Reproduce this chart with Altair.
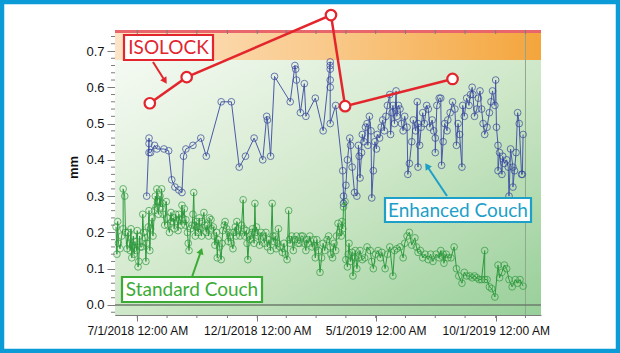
import altair as alt
import pandas as pd

BASE = pd.Timestamp("2018-07-01")

# Standard Couch: (days since 2018-07-01, mm)
std_points = [
    (-27, .215), (-26, .14), (-25, .23), (-24, .17), (-22, .155), (-20, .19), (-18, .21), (-18, .32),
    (-16, .30), (-15, .20), (-13, .155), (-12, .20), (-10, .17), (-9, .15), (-8, .21), (-7, .13),
    (-5, .19), (-4, .14), (-3, .175), (-1, .15), (0, .205), (1, .105), (2, .12), (3, .19), (4, .16),
    (6, .16), (7, .25), (8, .20), (10, .185), (11, .12), (12, .17), (14, .215), (15, .26), (16, .15),
    (17, .21), (19, .24), (20, .19), (22, .26), (23, .30), (24, .27), (25, .32), (26, .285), (27, .25),
    (29, .30), (30, .27), (31, .32), (32, .28), (33, .25), (35, .22), (37, .285), (38, .24), (39, .22),
    (41, .20), (43, .255), (44, .23), (46, .24), (47, .21), (49, .25), (51, .23), (52, .205), (53, .25),
    (54, .235), (56, .22), (57, .275), (58, .24), (60, .265), (61, .22), (62, .235), (64, .20), (65, .17),
    (66, .15), (68, .21), (70, .22), (71, .25), (72, .31), (73, .22), (74, .19), (75, .23), (76, .215),
    (78, .20), (79, .24), (80, .21), (82, .19), (83, .23), (85, .255), (86, .22), (88, .20), (89, .22),
    (91, .19), (92, .24), (94, .235), (95, .21), (97, .215), (98, .19), (99, .165), (101, .20), (102, .13),
    (103, .18), (105, .16), (107, .125), (108, .17), (109, .205), (111, .22), (112, .23), (114, .21),
    (116, .175), (117, .20), (118, .19), (120, .17), (122, .155), (123, .20), (125, .215), (126, .19),
    (127, .23), (129, .21), (131, .19), (133, .22), (135, .29), (136, .21), (137, .19), (139, .205),
    (140, .17), (141, .125), (143, .19), (144, .18), (146, .20), (147, .21), (149, .17), (150, .28),
    (151, .20), (152, .215), (154, .19), (156, .165), (158, .20), (160, .19), (162, .17), (164, .20),
    (166, .16), (168, .18), (170, .15), (172, .28), (173, .19), (174, .175), (176, .19), (177, .155),
    (179, .17), (180, .21), (182, .16), (185, .145), (187, .17), (189, .14), (191, .125), (193, .26),
    (194, .18), (195, .17), (197, .19), (199, .15), (201, .18), (203, .19), (205, .17), (207, .17),
    (209, .19), (211, .19), (213, .17), (215, .15), (216, .18), (218, .17), (220, .19), (223, .16),
    (225, .18), (227, .13), (228, .16), (229, .18), (231, .15), (233, .09), (235, .13), (237, .17),
    (239, .15), (242, .18), (244, .19), (246, .16), (247, .14), (249, .13), (251, .17), (253, .15),
    (254, .19), (256, .225), (258, .20), (260, .19), (261, .23), (262, .21), (263, .27), (265, .285),
    (266, .125), (268, .105), (269, .14), (270, .17), (272, .12), (274, .145), (275, .08), (277, .13),
    (278, .15), (280, .10), (282, .13), (284, .15), (287, .125), (290, .13), (293, .16), (297, .15),
    (299, .12), (301, .10), (304, .14), (307, .15), (310, .13), (312, .145), (316, .10), (319, .14),
    (322, .16), (326, .08), (328, .15), (331, .155), (335, .16), (339, .13), (341, .17), (344, .19),
    (347, .20), (350, .165), (354, .185), (356, .16), (358, .145), (361, .15), (364, .13), (367, .14),
    (371, .125), (374, .14), (377, .12), (381, .14), (385, .13), (387, .15), (388, .135), (390, .14),
    (391, .115), (394, .14), (396, .13), (400, .13), (404, .16), (407, .10), (410, .08), (414, .06),
    (417, .09), (420, .08), (424, .08), (427, .075), (430, .08), (433, .075), (436, .07), (439, .07),
    (443, .15), (443, .07), (446, .07), (449, .05), (452, .045), (456, .022), (460, .11), (462, .075),
    (465, .09), (468, .11), (471, .10), (474, .07), (478, .05), (482, .07), (485, .06), (488, .07),
    (492, .052),
]

# Enhanced Couch: (days since 2018-07-01, mm)
enh_points = [
    (12, .30), (15, .46), (15, .445), (15, .42), (17, .42), (22, .44), (25, .43), (34, .43), (40, .425),
    (44, .345), (48, .325), (53, .317), (57, .31), (59, .41), (62, .43), (71, .44), (81, .46), (88, .41),
    (107, .56), (120, .56), (130, .38), (138, .41), (149, .46), (160, .40), (165, .52), (166, .51),
    (170, .41), (175, .63), (195, .56), (201, .66), (202, .65), (203, .62), (208, .53), (213, .61),
    (215, .52), (227, .57), (237, .48), (246, .67), (246, .66), (246, .65), (246, .62), (246, .60),
    (246, .50), (253, .55), (262, .37), (263, .30), (263, .28), (266, .33), (268, .40), (271, .46),
    (272, .44), (274, .38), (277, .31), (280, .30), (282, .44), (283, .41), (284, .35), (286, .42),
    (287, .47), (289, .45), (291, .49), (293, .50), (294, .44), (296, .52), (298, .48), (299, .295),
    (301, .37), (303, .45), (305, .43), (306, .47), (309, .46), (311, .49), (313, .51), (315, .48),
    (317, .52), (319, .55), (322, .58), (323, .47), (325, .53), (326, .55), (328, .50), (330, .59),
    (331, .52), (333, .55), (335, .54), (337, .50), (339, .48), (341, .52), (344, .49), (345, .36),
    (347, .39), (350, .45), (352, .51), (355, .48), (357, .56), (358, .38), (358, .50), (360, .44),
    (362, .49), (364, .53), (366, .50), (369, .55), (371, .54), (373, .49), (376, .51), (378, .48),
    (380, .46), (380, .42), (382, .55), (385, .57), (387, .57), (388, .385), (390, .45), (392, .50),
    (395, .48), (396, .51), (399, .53), (402, .56), (405, .54), (407, .44), (409, .50), (411, .47),
    (414, .38), (415, .55), (417, .52), (420, .57), (423, .55), (425, .58), (427, .60), (428, .58),
    (430, .52), (433, .54), (435, .57), (437, .59), (439, .54), (441, .50), (443, .47), (446, .49),
    (449, .53), (451, .56), (453, .59), (456, .55), (457, .62), (458, .49), (460, .44), (460, .37),
    (462, .42), (465, .36), (466, .41), (468, .39), (471, .40), (473, .38), (474, .30), (476, .43),
    (479, .38), (479, .325), (481, .37), (483, .42), (485, .53), (487, .50), (490, .36), (491, .36),
    (492, .47),
]

# ISOLOCK
iso_day = [16, 63, 247, 265, 402]
iso_mm = [0.556, 0.628, 0.799, 0.548, 0.623]

y_major = [0.0, 0.1, 0.2, 0.3, 0.4, 0.5, 0.6, 0.7]
y_minor = [-0.02, 0.02, 0.04, 0.06, 0.08, 0.12, 0.14, 0.16, 0.18,
           0.22, 0.24, 0.26, 0.28, 0.32, 0.34, 0.36, 0.38,
           0.42, 0.44, 0.46, 0.48, 0.52, 0.54, 0.56, 0.58,
           0.62, 0.64, 0.66, 0.68, 0.72, 0.74]
x_ticks = ["2018-07-01", "2018-08-08", "2018-09-15", "2018-10-24", "2018-12-01",
           "2019-01-07", "2019-02-14", "2019-03-24", "2019-05-01", "2019-06-08",
           "2019-07-16", "2019-08-23", "2019-10-01", "2019-11-08"]
ref_line_date = ["2019-11-08"]

W, H = 426, 285


def to_dates(days):
    return [(BASE + pd.Timedelta(days=int(d))).strftime("%Y-%m-%dT00:00:00") for d in days]


def series_df(days, vals):
    return pd.DataFrame({"date": to_dates(days), "mm": list(vals), "idx": list(range(len(vals)))})


std_df = series_df([p[0] for p in std_points], [p[1] for p in std_points])
enh_df = series_df([p[0] for p in enh_points], [p[1] for p in enh_points])
iso_df = series_df(iso_day, iso_mm)
xt_df = pd.DataFrame({"date": [d + "T00:00:00" for d in x_ticks]})
ym_df = pd.DataFrame({"mm": y_minor})
zero_df = pd.DataFrame({"mm": [0.0]})
ref_df = pd.DataFrame({"date": [d + "T00:00:00" for d in ref_line_date]})

xscale = alt.Scale(domain=[alt.DateTime(year=2018, month=6, date=2, hours=14, minutes=24),
                           alt.DateTime(year=2019, month=11, date=27, hours=19, minutes=12)],
                   nice=False)
yscale = alt.Scale(domain=[-0.0276, 0.7579], nice=False, zero=False)

FONT = "Liberation Sans"
AX = "#7c7c7c"

x_axis = alt.Axis(
    values=[alt.DateTime(year=2018, month=7, date=1), alt.DateTime(year=2018, month=12, date=1),
            alt.DateTime(year=2019, month=5, date=1), alt.DateTime(year=2019, month=10, date=1)],
    format="%-m/%-d/%Y %I:%M %p", formatType="time", title=None, grid=False,
    tickSize=6, tickColor=AX, domainColor=AX, labelFontSize=12, labelFont=FONT,
    labelColor="#111111", labelPadding=4, labelFlush=False, labelOverlap=False)
y_axis = alt.Axis(
    values=y_major, format=".1f", title="mm", titleFont=FONT, titleFontSize=13,
    titleFontWeight="bold", titleColor="#111111", titleAngle=270, titleX=-42, titleY=137,
    titleAlign="center", titleBaseline="middle", grid=False, tickSize=8, tickColor=AX,
    domainColor=AX, labelFontSize=13, labelFont=FONT, labelColor="#111111", labelPadding=3)


def X():
    return alt.X("date:T", scale=xscale, axis=x_axis)


def Y():
    return alt.Y("mm:Q", scale=yscale, axis=y_axis)


one = alt.Data(values=[{"a": 1}])

green_grad = alt.LinearGradient(
    gradient="linear",
    stops=[alt.GradientStop(color="#f5faf3", offset=0),
           alt.GradientStop(color="#d0e8ca", offset=0.5),
           alt.GradientStop(color="#98cf99", offset=1)],
    x1=0, y1=0, x2=1, y2=1)
orange_grad = alt.LinearGradient(
    gradient="linear",
    stops=[alt.GradientStop(color="#fde4c6", offset=0),
           alt.GradientStop(color="#f9c98a", offset=0.5),
           alt.GradientStop(color="#f4a53c", offset=1)],
    x1=0, y1=0, x2=1, y2=0)

bg_green = alt.Chart(one).mark_rect(color=green_grad).encode(
    x=alt.value(0), x2=alt.value(W), y=alt.value(30), y2=alt.value(H))
bg_orange = alt.Chart(one).mark_rect(color=orange_grad).encode(
    x=alt.value(0), x2=alt.value(W), y=alt.value(3), y2=alt.value(30))
bg_red = alt.Chart(one).mark_rect(color="#e8666b").encode(
    x=alt.value(0), x2=alt.value(W), y=alt.value(0), y2=alt.value(3))

zero_rule = alt.Chart(zero_df).mark_rule(color="#6d7d6d", strokeWidth=1.5).encode(y=Y())
ref_rule = alt.Chart(ref_df).mark_rule(color="#8fa88f", strokeWidth=1).encode(
    x=X(), y=alt.value(0), y2=alt.value(H))

GREEN = "#2f9a3e"
BLUE = "#33449a"
RED = "#e3262d"

std_line = alt.Chart(std_df).mark_line(color=GREEN, strokeWidth=1).encode(
    x=X(), y=Y(), order="idx:Q")
std_pts = alt.Chart(std_df).mark_point(color=GREEN, size=45, strokeWidth=1, filled=False).encode(
    x=X(), y=Y())

enh_line = alt.Chart(enh_df).mark_line(color="#4b5aa8", strokeWidth=1).encode(
    x=X(), y=Y(), order="idx:Q")
enh_pts = alt.Chart(enh_df).mark_point(color=BLUE, size=45, strokeWidth=1, filled=False).encode(
    x=X(), y=Y())

iso_line = alt.Chart(iso_df).mark_line(color=RED, strokeWidth=2.5, clip=False).encode(
    x=X(), y=Y(), order="idx:Q")
iso_pts = alt.Chart(iso_df).mark_point(shape="circle", fill="white", stroke=RED, fillOpacity=1,
                                       size=110, strokeWidth=2.2, filled=True, clip=False).encode(
    x=X(), y=Y())

# minor ticks
x_bottom_ticks = alt.Chart(xt_df).mark_rule(color=AX, strokeWidth=1).encode(
    x=X(), y=alt.value(H), y2=alt.value(H + 3))
x_top_ticks = alt.Chart(xt_df).mark_rule(color=AX, strokeWidth=1).encode(
    x=X(), y=alt.value(0), y2=alt.value(4))
y_minor_ticks = alt.Chart(ym_df).mark_rule(color=AX, strokeWidth=1).encode(
    y=Y(), x=alt.value(-4), x2=alt.value(0))


def box(x1, x2, y1, y2, color):
    return alt.Chart(one).mark_rect(fill="white", stroke=color, strokeWidth=2.2).encode(
        x=alt.value(x1), x2=alt.value(x2), y=alt.value(y1), y2=alt.value(y2))


def label(x, y, text, color, size):
    return alt.Chart(one).mark_text(text=text, color=color, fontSize=size, font="Lato",
                                    align="center", baseline="middle").encode(
        x=alt.value(x), y=alt.value(y))


def arrow(x1, y1, x2, y2, ang, hx, hy, color):
    shaft = alt.Chart(one).mark_rule(color=color, strokeWidth=2).encode(
        x=alt.value(x1), y=alt.value(y1), x2=alt.value(x2), y2=alt.value(y2))
    head = alt.Chart(one).mark_point(shape="triangle-up", filled=True, color=color, size=55,
                                     angle=ang, opacity=1).encode(x=alt.value(hx), y=alt.value(hy))
    return shaft + head


TEAL = "#1d9fc8"
LGREEN = "#3cab36"

annots = [
    arrow(38, 32, 50, 51, 148, 50, 51, RED),
    box(9, 98, 5, 30, RED), label(53.5, 18, "ISOLOCK", RED, 19),
    arrow(332, 166, 312, 136, 326, 312, 136, TEAL),
    box(270, 416, 168, 192, TEAL), label(343, 180.5, "Enhanced Couch", TEAL, 19),
    arrow(77, 247, 86, 221, 19, 86, 221, LGREEN),
    box(7, 147, 247, 272, LGREEN), label(77, 260, "Standard Couch", LGREEN, 19),
]

frame = alt.Chart(one).mark_rect(fillOpacity=0, stroke="#0b9bd7", strokeWidth=4.5).encode(
    x=alt.value(-113), x2=alt.value(503), y=alt.value(-28), y2=alt.value(321))

chart = alt.layer(
    bg_green, bg_orange, bg_red, ref_rule, zero_rule,
    std_line, std_pts, enh_line, enh_pts,
    x_bottom_ticks, x_top_ticks, y_minor_ticks,
    *annots,
    iso_line, iso_pts,
    frame,
).properties(
    width=W, height=H,
    padding={"left": 115, "top": 30, "right": 79, "bottom": 38},
    autosize=alt.AutoSizeParams(type="none"),
    background="white",
).configure_view(strokeWidth=0)

chart.save("out.html", embed_options={"renderer": "svg", "actions": False})
